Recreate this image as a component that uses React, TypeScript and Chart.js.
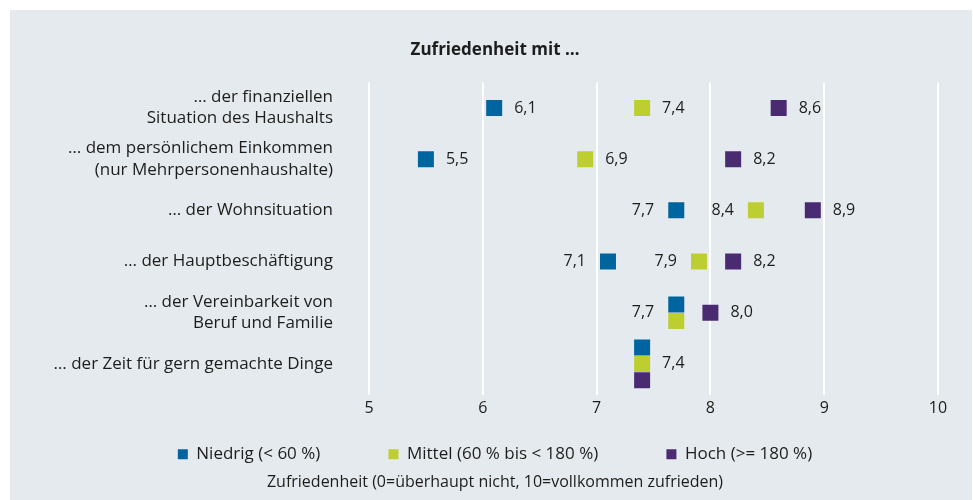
import React, { useEffect, useRef } from "react";
import { Chart, registerables } from "chart.js";

Chart.register(...registerables);

// ---------- data ----------
const categories: string[][] = [
  ["… der finanziellen", "Situation des Haushalts"],
  ["… dem persönlichem Einkommen", "(nur Mehrpersonenhaushalte)"],
  ["… der Wohnsituation"],
  ["… der Hauptbeschäftigung"],
  ["… der Vereinbarkeit von", "Beruf und Familie"],
  ["… der Zeit für gern gemachte Dinge"],
];
const seriesNames = ["Niedrig (< 60 %)", "Mittel (60 % bis < 180 %)", "Hoch (>= 180 %)"];
const niedrig = [6.1, 5.5, 7.7, 7.1, 7.7, 7.4];
const mittel = [7.4, 6.9, 8.4, 7.9, 7.7, 7.4];
const hoch = [8.6, 8.2, 8.9, 8.2, 8.0, 7.4];
const xTicks = [5, 6, 7, 8, 9, 10];
const chartTitle = "Zufriedenheit mit …";
const axisCaption = "Zufriedenheit (0=überhaupt nicht, 10=vollkommen zufrieden)";

// ---------- style ----------
const COLORS = ["#00649f", "#bdcf30", "#4a2b72"];
const TEXT = "#1d1d1b";
const FONT = "'Open Sans'";
const PANEL_W = 962;
const PANEL_H = 490;
const PAD_L = 42;
const PAD_R = 34;
const AREA_LEFT = 359;
const MARKER = 16; // square side in px
const STACK = 0.32; // vertical shift (row units) for tied values
const LEGEND_GAP = 68;
const LEGEND_PAD = 24;

const series = [niedrig, mittel, hoch];

function offsetFor(row: number, s: number): number {
  const v = series[s][row];
  const group = series.map((arr, i) => (arr[row] === v ? i : -1)).filter((i) => i >= 0);
  const idx = group.indexOf(s);
  return (idx - (group.length - 1) / 2) * STACK;
}

const fmt = (v: number) => v.toFixed(1).replace(".", ",");

const valueLabels = {
  id: "valueLabels",
  afterDatasetsDraw(chart: any) {
    const { ctx } = chart;
    const xs = chart.scales.x;
    const ys = chart.scales.y;
    ctx.save();
    ctx.font = `16px ${FONT}`;
    ctx.fillStyle = TEXT;
    ctx.textBaseline = "middle";
    categories.forEach((_, r) => {
      const distinct = Array.from(new Set(series.map((arr) => arr[r]))).sort((a, b) => a - b);
      distinct.forEach((v, k) => {
        const next = distinct[k + 1];
        const left = next !== undefined && next - v < 1;
        const xp = xs.getPixelForValue(v);
        const yp = ys.getPixelForValue(r);
        if (left) {
          ctx.textAlign = "right";
          ctx.fillText(fmt(v), xp - MARKER / 2 - 14, yp);
        } else {
          ctx.textAlign = "left";
          ctx.fillText(fmt(v), xp + MARKER / 2 + 12, yp);
        }
      });
    });
    ctx.restore();
  },
};

export default function App() {
  const ref = useRef<HTMLCanvasElement>(null);

  useEffect(() => {
    if (!ref.current) return;
    Chart.defaults.font.family = FONT;
    Chart.defaults.color = TEXT;

    const mctx = document.createElement("canvas").getContext("2d")!;
    mctx.font = `17px ${FONT}`;
    const spaceW = mctx.measureText(" ").width || 4;
    const extra = " ".repeat(Math.max(0, Math.round((LEGEND_GAP - LEGEND_PAD) / spaceW)));

    const chart = new Chart(ref.current, {
      type: "scatter",
      data: {
        datasets: series.map((arr, s) => ({
          label: s < series.length - 1 ? seriesNames[s] + extra : seriesNames[s],
          data: arr.map((v, r) => ({ x: v, y: r + offsetFor(r, s) })),
          backgroundColor: COLORS[s],
          borderWidth: 0,
          pointStyle: "rect",
          pointRadius: MARKER / 2 / Math.SQRT1_2,
          pointHoverRadius: MARKER / 2 / Math.SQRT1_2,
          showLine: false,
        })),
      },
      options: {
        responsive: false,
        animation: false,
        events: [],
        layout: { padding: { left: PAD_L, right: PAD_R, top: 0, bottom: 0 } },
        scales: {
          x: {
            type: "linear",
            min: 5,
            max: 10,
            afterBuildTicks: (scale: any) => {
              scale.ticks = xTicks.map((v) => ({ value: v }));
            },
            grid: { color: "#ffffff", lineWidth: 2, drawTicks: false },
            border: { display: false },
            ticks: { padding: 4, font: { size: 16 }, color: TEXT },
          },
          y: {
            type: "linear",
            position: "left",
            reverse: true,
            min: -0.5,
            max: 5.6,
            afterBuildTicks: (scale: any) => {
              scale.ticks = categories.map((_, i) => ({ value: i }));
            },
            afterFit: (scale: any) => {
              scale.width = AREA_LEFT - PAD_L;
            },
            grid: { display: false, drawTicks: false },
            border: { display: false },
            ticks: {
              autoSkip: false,
              padding: 36,
              font: { size: 17, lineHeight: 1.25 },
              color: TEXT,
              callback: (v: any) => categories[Math.round(Number(v))] ?? "",
            },
          },
        },
        plugins: {
          title: {
            display: true,
            text: chartTitle,
            color: TEXT,
            font: { size: 17, weight: "bold" },
            padding: { top: 30, bottom: 22 },
          },
          subtitle: {
            display: true,
            position: "bottom",
            text: axisCaption,
            color: TEXT,
            font: { size: 16 },
            padding: { top: 0, bottom: 8 },
          },
          legend: {
            position: "bottom",
            labels: {
              boxWidth: 10,
              boxHeight: 10,
              padding: LEGEND_PAD,
              color: TEXT,
              font: { size: 17 },
            },
          },
          tooltip: { enabled: false },
        },
      },
      plugins: [valueLabels],
    } as any);

    return () => chart.destroy();
  }, []);

  return (
    <div style={{ position: "fixed", left: 0, top: 0, width: 973, height: 500, background: "#ffffff" }}>
      <div
        style={{
          position: "absolute",
          left: 10,
          top: 10,
          width: PANEL_W,
          height: PANEL_H,
          background: "#e5eaee",
        }}
      >
        <canvas ref={ref} width={PANEL_W} height={PANEL_H} style={{ display: "block" }} />
      </div>
    </div>
  );
}
